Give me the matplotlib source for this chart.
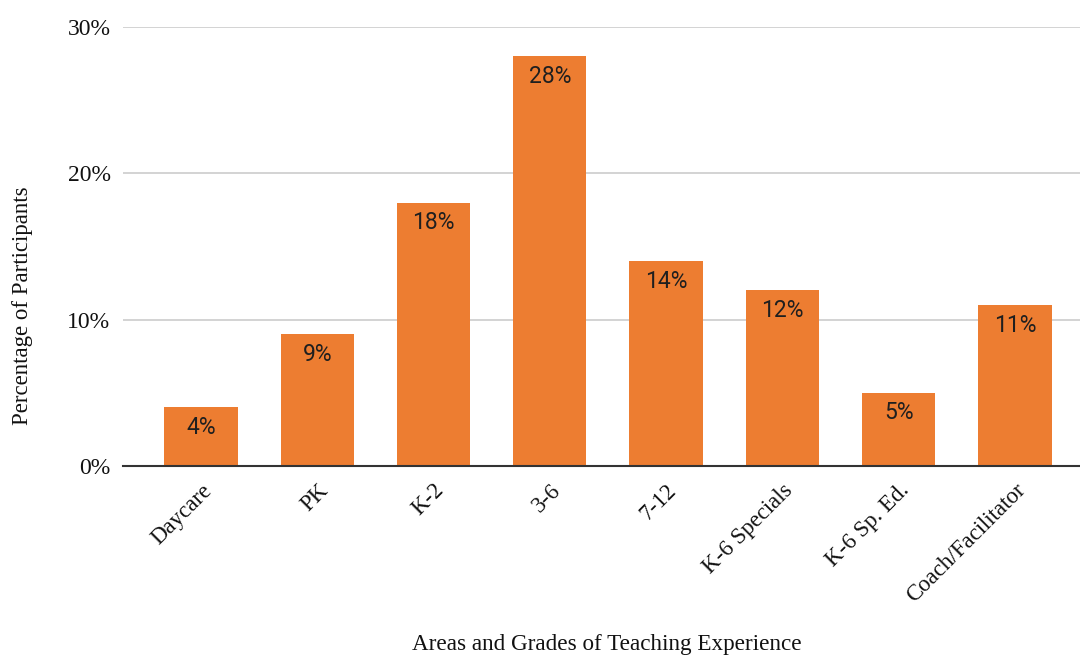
import matplotlib
matplotlib.use("Agg")
import matplotlib.pyplot as plt
from matplotlib.ticker import FuncFormatter, MultipleLocator

categories = ["Daycare", "PK", "K-2", "3-6", "7-12", "K-6 Specials", "K-6 Sp. Ed.", "Coach/Facilitator"]
percentages = [4, 9, 18, 28, 14, 12, 5, 11]

bar_color = "#ED7D31"
serif = "Liberation Serif"
sans = "Roboto"

fig = plt.figure(figsize=(10.8, 6.57), dpi=100)
ax = fig.add_axes([0.1139, 0.2907, 0.8861, 0.6682])

x = list(range(len(categories)))
bars = ax.bar(x, percentages, width=0.63, color=bar_color, zorder=2)

for rect, val in zip(bars, percentages):
    ax.annotate(f"{val}%", (rect.get_x() + rect.get_width() / 2, rect.get_height()),
                xytext=(0, -20), textcoords="offset pixels", ha="center", va="center",
                fontsize=16.5, family=sans, color="#1f1f1f", zorder=3)

ax.set_ylim(0, 30)
ax.set_xlim(-0.67, 7.56)
ax.yaxis.set_major_locator(MultipleLocator(10))
ax.yaxis.set_major_formatter(FuncFormatter(lambda v, p: f"{int(v)}%"))
ax.grid(axis="y", color="#cccccc", linewidth=1.2, zorder=0)
ax.set_axisbelow(True)

for s in ["top", "right", "left"]:
    ax.spines[s].set_visible(False)
ax.spines["bottom"].set_color("#333333")
ax.spines["bottom"].set_linewidth(1.5)
ax.spines["bottom"].set_zorder(3)

ax.tick_params(axis="both", length=0)
ax.tick_params(axis="y", pad=9)
ax.set_xticks(x)
ax.set_xticklabels(categories, rotation=45, ha="right", rotation_mode="anchor",
                   fontsize=16.5, family=serif, color="#111111")
ax.tick_params(axis="x", pad=10)
for lbl in ax.get_yticklabels():
    lbl.set_fontfamily(serif)
    lbl.set_fontsize(17)
    lbl.set_color("#111111")

fig.text(0.0204, 0.534, "Percentage of Participants", rotation=90, ha="center", va="center",
         fontsize=16.5, family=serif, color="#111111")
fig.text(0.562, 0.0183, "Areas and Grades of Teaching Experience", ha="center", va="center",
         fontsize=16.7, family=serif, color="#111111")

fig.savefig("out.png", dpi=100, facecolor="white")
